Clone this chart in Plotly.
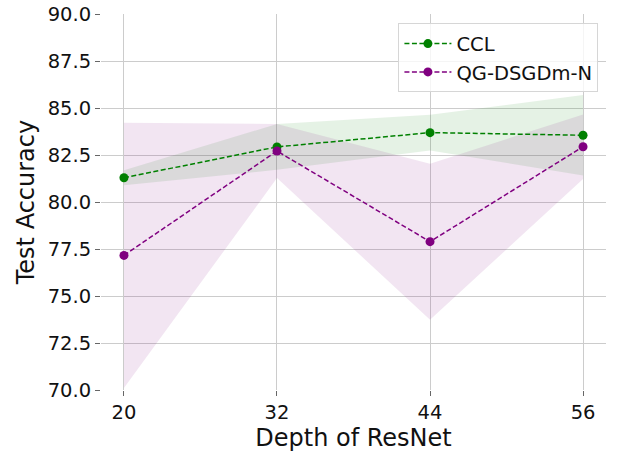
import plotly.graph_objects as go

depths = [20, 32, 44, 56]
ccl_mean = [81.29, 82.93, 83.69, 83.55]
ccl_std = [0.40, 1.22, 0.95, 2.14]
qg_mean = [77.16, 82.71, 77.89, 82.94]
qg_std = [7.06, 1.44, 4.15, 1.72]
y_ticks = [70.0, 72.5, 75.0, 77.5, 80.0, 82.5, 85.0, 87.5, 90.0]

series = [
    ("CCL", ccl_mean, ccl_std, "green", "rgba(0,128,0,0.1)"),
    ("QG-DSGDm-N", qg_mean, qg_std, "purple", "rgba(128,0,128,0.1)"),
]

fig = go.Figure()
for name, m, s, col, fillc in series:
    lo = [a - b for a, b in zip(m, s)]
    hi = [a + b for a, b in zip(m, s)]
    fig.add_trace(go.Scatter(x=depths, y=lo, mode="lines", line=dict(width=0),
                             showlegend=False, hoverinfo="skip"))
    fig.add_trace(go.Scatter(x=depths, y=hi, mode="lines", line=dict(width=0),
                             fill="tonexty", fillcolor=fillc,
                             showlegend=False, hoverinfo="skip"))
for name, m, s, col, fillc in series:
    fig.add_trace(go.Scatter(x=depths, y=m, mode="lines+markers", name=name,
                             line=dict(color=col, width=1.5, dash="5px,2.5px"),
                             marker=dict(color=col, size=9)))

font_family = "DejaVu Sans, sans-serif"
fig.update_layout(
    width=619, height=452,
    margin=dict(l=101, r=13, t=14, b=62),
    plot_bgcolor="white", paper_bgcolor="white",
    font=dict(family=font_family, color="#111111", size=19.5),
    legend=dict(x=0.985, y=0.975, xanchor="right", yanchor="top", traceorder="normal",
                bgcolor="rgba(255,255,255,0.8)", bordercolor="#d6d6d6", borderwidth=1,
                font=dict(size=19.5), itemwidth=47),
    xaxis=dict(range=[18.2, 57.8], tickvals=depths, ticktext=[str(d) for d in depths],
               showgrid=True, gridcolor="#cccccc", gridwidth=1, zeroline=False,
               ticks="outside", ticklen=5, tickcolor="#666666", showline=False,
               tickfont=dict(size=19.5), automargin=False,
               title=dict(text="Depth of ResNet", font=dict(size=24), standoff=4)),
    yaxis=dict(range=[70, 90], tickvals=y_ticks, ticktext=[f"{v:.1f}" for v in y_ticks],
               showgrid=True, gridcolor="#cccccc", gridwidth=1, zeroline=False,
               ticks="outside", ticklen=5, tickcolor="#666666", showline=False,
               tickfont=dict(size=19.5), automargin=False,
               title=dict(text="Test Accuracy", font=dict(size=24), standoff=6)),
)

fig.write_html("out.html", config={"displayModeBar": False},
               post_script="document.body.style.margin='0';document.body.style.overflow='hidden';")
